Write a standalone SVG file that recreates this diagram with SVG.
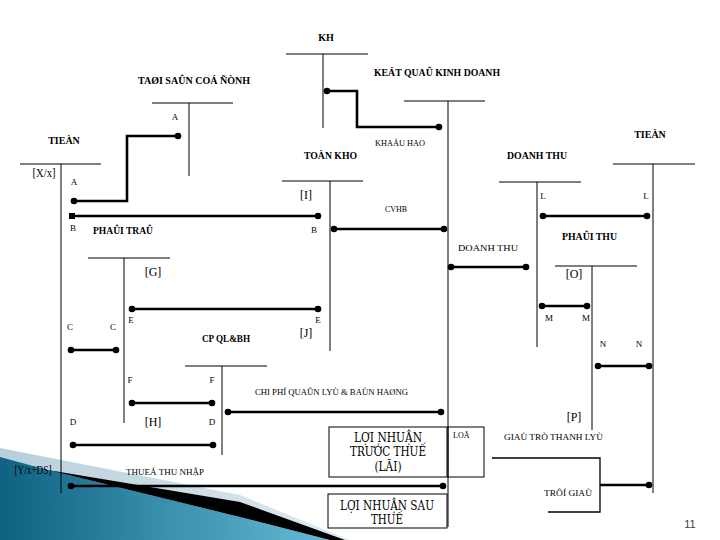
<svg xmlns="http://www.w3.org/2000/svg" width="720" height="540" viewBox="0 0 720 540">
<style>
.ln{stroke:#000;stroke-width:1;fill:none}
.cn{stroke:#000;stroke-width:2.6;fill:none}
.thin{stroke:#000;stroke-width:1.3;fill:none}
.dot{fill:#000}
.t{font-family:"Liberation Serif",serif;font-weight:bold;font-size:10px;fill:#000}
.s{font-family:"Liberation Serif",serif;font-size:8px;fill:#000}
.l{font-family:"Liberation Serif",serif;font-size:9px;fill:#000;text-anchor:middle}
.br{font-family:"Liberation Serif",serif;font-size:12px;fill:#000;text-anchor:middle}
.bx{font-family:"DejaVu Serif","Liberation Serif",serif;font-size:12px;fill:#000;text-anchor:middle}
.box{fill:#fff;stroke:#000;stroke-width:1}
</style>
<defs>
<linearGradient id="blue" x1="0" y1="0" x2="1" y2="0">
<stop offset="0" stop-color="#0f6282"/>
<stop offset="1" stop-color="#63bcd6"/>
</linearGradient>
<linearGradient id="pale" x1="0" y1="0" x2="1" y2="0">
<stop offset="0" stop-color="#b7d0dc"/>
<stop offset="1" stop-color="#dfeaf0"/>
</linearGradient>
</defs>
<rect width="720" height="540" fill="#fff"/>
<g id="decoration">
<polygon points="0,448 240,495 350,540 0,540" fill="url(#pale)"/>
<polygon points="0,457 48,470 240,517 330,540 0,540" fill="url(#blue)"/>
<polygon points="48,470 240,502 345,540 330,540 240,517" fill="#000"/>
</g>
<g id="connectors">
<polyline class="cn" points="327,91 357,91 357,127 439,127"/>
<circle class="dot" cx="327" cy="91" r="3.3"/><circle class="dot" cx="439" cy="127" r="3.3"/>
<polyline class="cn" points="178,136 127,136 127,201 74,201"/>
<circle class="dot" cx="178" cy="136" r="3.3"/><circle class="dot" cx="74" cy="201" r="3.3"/>
<line class="cn" x1="72" y1="216" x2="318" y2="216"/>
<rect class="dot" x="69" y="213" width="6" height="6"/><circle class="dot" cx="318" cy="216" r="3.3"/>
<line class="cn" x1="334" y1="229" x2="444" y2="229"/>
<circle class="dot" cx="334" cy="229" r="3.3"/><circle class="dot" cx="444" cy="229" r="3.3"/>
<line class="cn" x1="451" y1="267" x2="526" y2="267"/>
<circle class="dot" cx="451" cy="267" r="3.3"/><circle class="dot" cx="526" cy="267" r="3.3"/>
<line class="cn" x1="543" y1="216" x2="647" y2="216"/>
<circle class="dot" cx="543" cy="216" r="3.3"/><circle class="dot" cx="647" cy="216" r="3.3"/>
<line class="cn" x1="132" y1="309" x2="318" y2="309"/>
<circle class="dot" cx="132" cy="309" r="3.3"/><circle class="dot" cx="318" cy="309" r="3.3"/>
<line class="cn" x1="542" y1="306" x2="587" y2="306"/>
<circle class="dot" cx="542" cy="306" r="3.3"/><circle class="dot" cx="587" cy="306" r="3.3"/>
<line class="cn" x1="71" y1="350" x2="116" y2="350"/>
<circle class="dot" cx="71" cy="350" r="3.3"/><circle class="dot" cx="116" cy="350" r="3.3"/>
<line class="cn" x1="598" y1="366" x2="649" y2="366"/>
<circle class="dot" cx="598" cy="366" r="3.3"/><circle class="dot" cx="649" cy="366" r="3.3"/>
<line class="cn" x1="132" y1="403" x2="212" y2="403"/>
<circle class="dot" cx="132" cy="403" r="3.3"/><circle class="dot" cx="212" cy="403" r="3.3"/>
<line class="cn" x1="228" y1="412" x2="441" y2="412"/>
<circle class="dot" cx="228" cy="412" r="3.3"/><circle class="dot" cx="441" cy="412" r="3.3"/>
<line class="cn" x1="73" y1="445" x2="213" y2="445"/>
<circle class="dot" cx="73" cy="445" r="3.3"/><circle class="dot" cx="213" cy="445" r="3.3"/>
<line class="cn" x1="71" y1="486" x2="443" y2="486"/>
<circle class="dot" cx="71" cy="486" r="3.3"/><circle class="dot" cx="443" cy="486" r="3.3"/>
<polyline class="thin" points="492,458 600,458 600,512 548,512"/>
<line class="cn" x1="600" y1="485" x2="649" y2="485"/>
<circle class="dot" cx="649" cy="485" r="3.3"/>
</g>
<g id="kh">
<text class="t" x="326" y="41" text-anchor="middle">KH</text>
<line class="ln" x1="286" y1="54" x2="368" y2="54"/><line class="ln" x1="323" y1="54" x2="323" y2="128"/>
</g>
<g id="tscd">
<text class="t" x="138" y="84" textLength="112" lengthAdjust="spacingAndGlyphs">TAØI SAÛN COÁ ÑÒNH</text>
<line class="ln" x1="152" y1="103" x2="233" y2="103"/><line class="ln" x1="189" y1="103" x2="189" y2="176"/>
<text class="l" x="175" y="120">A</text>
</g>
<g id="kqkd">
<text class="t" x="374" y="76" textLength="126" lengthAdjust="spacingAndGlyphs">KEÁT QUAÛ KINH DOANH</text>
<line class="ln" x1="404" y1="101" x2="485" y2="101"/><line class="ln" x1="448" y1="101" x2="448" y2="527"/>
<text class="s" x="375" y="146" textLength="50" lengthAdjust="spacingAndGlyphs">KHAÁU HAO</text>
<text class="s" x="396" y="212" text-anchor="middle">CVHB</text>
<text class="s" x="458" y="251" textLength="60" lengthAdjust="spacingAndGlyphs">DOANH THU</text>
</g>
<g id="tien-left">
<text class="t" x="64" y="144" text-anchor="middle">TIEÀN</text>
<line class="ln" x1="20" y1="164" x2="101" y2="164"/><line class="ln" x1="61" y1="164" x2="61" y2="493"/>
<text class="br" x="44" y="177" textLength="23" lengthAdjust="spacingAndGlyphs">[X/x]</text>
<text class="l" x="74" y="185">A</text>
<text class="l" x="73" y="231">B</text>
<text class="l" x="70" y="330">C</text>
<text class="l" x="73" y="425">D</text>
<text class="br" x="33" y="474" textLength="37" lengthAdjust="spacingAndGlyphs">[Y/x+DS]</text>
</g>
<g id="tien-right">
<text class="t" x="650" y="138" text-anchor="middle">TIEÀN</text>
<line class="ln" x1="613" y1="164" x2="695" y2="164"/><line class="ln" x1="653" y1="164" x2="653" y2="493"/>
<text class="l" x="646" y="199">L</text>
<text class="l" x="639" y="347">N</text>
<text class="s" x="544" y="496" textLength="48" lengthAdjust="spacingAndGlyphs">TRÔÍ GIAÙ</text>
</g>
<g id="toan-kho">
<text class="t" x="304" y="159" textLength="53" lengthAdjust="spacingAndGlyphs">TOÀN KHO</text>
<line class="ln" x1="282" y1="181" x2="363" y2="181"/><line class="ln" x1="330" y1="181" x2="330" y2="351"/>
<text class="br" x="306" y="199">[I]</text>
<text class="l" x="314" y="233">B</text>
<text class="l" x="318" y="323">E</text>
<text class="br" x="306" y="337">[J]</text>
</g>
<g id="doanh-thu">
<text class="t" x="507" y="159" textLength="60" lengthAdjust="spacingAndGlyphs">DOANH THU</text>
<line class="ln" x1="499" y1="182" x2="581" y2="182"/><line class="ln" x1="537" y1="182" x2="537" y2="347"/>
<text class="l" x="543" y="199">L</text>
</g>
<g id="phai-tra">
<text class="t" x="93" y="234" textLength="60" lengthAdjust="spacingAndGlyphs">PHAÛI TRAÛ</text>
<line class="ln" x1="88" y1="258" x2="170" y2="258"/><line class="ln" x1="124" y1="258" x2="124" y2="423"/>
<text class="br" x="153" y="276">[G]</text>
<text class="l" x="131" y="323">E</text>
<text class="l" x="113" y="330">C</text>
<text class="l" x="130" y="383">F</text>
<text class="br" x="153" y="426">[H]</text>
</g>
<g id="phai-thu">
<text class="t" x="562" y="240" textLength="55" lengthAdjust="spacingAndGlyphs">PHAÛI THU</text>
<line class="ln" x1="555" y1="266" x2="637" y2="266"/><line class="ln" x1="592" y1="266" x2="592" y2="430"/>
<text class="br" x="574" y="278">[O]</text>
<text class="l" x="549" y="321">M</text>
<text class="l" x="586" y="321">M</text>
<text class="l" x="603" y="347">N</text>
<text class="br" x="574" y="421">[P]</text>
<text class="s" x="504" y="440" textLength="99" lengthAdjust="spacingAndGlyphs">GIAÙ TRÒ THANH LYÙ</text>
</g>
<g id="cp-qlbh">
<text class="t" x="202" y="342" textLength="48" lengthAdjust="spacingAndGlyphs">CP QL&amp;BH</text>
<line class="ln" x1="185" y1="366" x2="267" y2="366"/><line class="ln" x1="222" y1="366" x2="222" y2="455"/>
<text class="l" x="212" y="383">F</text>
<text class="l" x="212" y="425">D</text>
<text class="s" x="255" y="395" textLength="153" lengthAdjust="spacingAndGlyphs">CHI PHÍ QUAÛN LYÙ &amp; BAÙN HAØNG</text>
<text class="s" x="126" y="475" textLength="78" lengthAdjust="spacingAndGlyphs">THUEÁ THU NHẬP</text>
</g>
<g id="lntt">
<rect class="box" x="329" y="427" width="118" height="50"/>
<text class="bx" x="388" y="442" textLength="68" lengthAdjust="spacingAndGlyphs">LỢI NHUẬN</text>
<text class="bx" x="388" y="456" textLength="76" lengthAdjust="spacingAndGlyphs">TRƯỚC THUẾ</text>
<text class="bx" x="388" y="471" textLength="27" lengthAdjust="spacingAndGlyphs">(LÃI)</text>
</g>
<g id="lo">
<rect class="box" x="448" y="427" width="36" height="50" style="fill:none"/>
<text class="s" x="453" y="438">LOÃ</text>
</g>
<g id="lnst">
<rect class="box" x="328" y="494" width="119" height="34"/>
<text class="bx" x="387" y="510" textLength="94" lengthAdjust="spacingAndGlyphs">LỢI NHUẬN SAU</text>
<text class="bx" x="387" y="524" textLength="32" lengthAdjust="spacingAndGlyphs">THUẾ</text>
</g>
<text x="690" y="528" font-family="Liberation Sans, sans-serif" font-size="11" fill="#404040" text-anchor="middle">11</text>
</svg>
